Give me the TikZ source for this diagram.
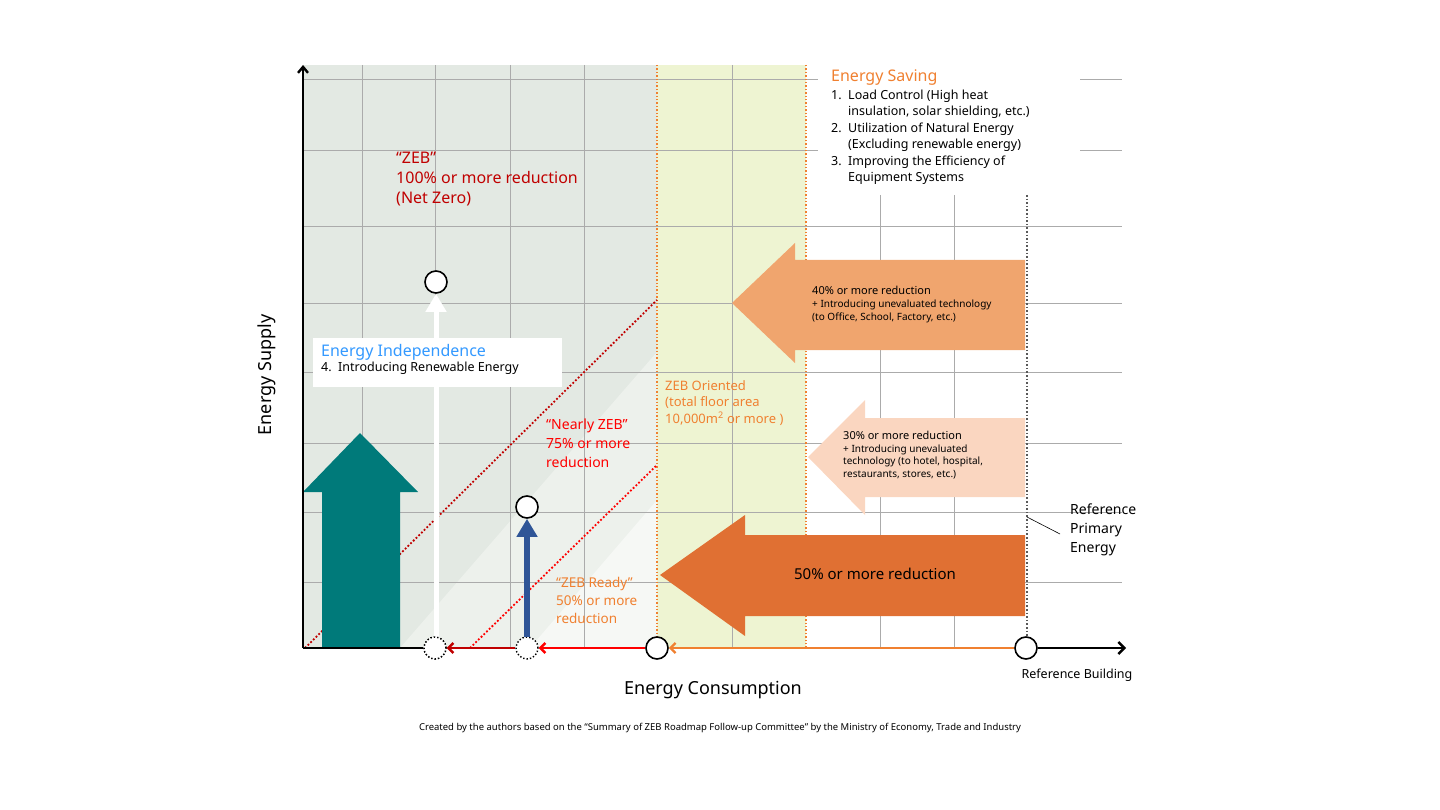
\documentclass[tikz,border=0pt]{standalone}
\usepackage{fontspec}
\setmainfont{Noto Sans}
\usetikzlibrary{arrows.meta}
\definecolor{bgg}{HTML}{E3E9E3}
\definecolor{bgl}{HTML}{EDF1EC}
\definecolor{bgw}{HTML}{F6F8F5}
\definecolor{yel}{HTML}{EEF4D2}
\definecolor{gridc}{HTML}{ABABAB}
\definecolor{dred}{HTML}{C00000}
\definecolor{bred}{HTML}{FF0000}
\definecolor{orn}{HTML}{F08030}
\definecolor{teal}{HTML}{007A7A}
\definecolor{blu}{HTML}{2F5597}
\definecolor{o40}{HTML}{F0A56E}
\definecolor{o30}{HTML}{FAD6C0}
\definecolor{o50}{HTML}{E07033}
\definecolor{sky}{HTML}{3399FF}
\begin{document}
\begin{tikzpicture}[x=1pt,y=-1pt,
  gl/.style={draw=gridc,line width=0.8pt},
  circ/.style={circle,draw=black,line width=1.6pt,fill=white,minimum size=22pt,inner sep=0pt},
  dcirc/.style={circle,draw=black,line width=1.4pt,dotted,fill=white,minimum size=22pt,inner sep=0pt},
  lbl/.style={align=left,anchor=north west,inner sep=0pt}]
\useasboundingbox (0,0) rectangle (1440,810);
\fill[bgg] (303,65) rectangle (657,648);
\fill[bgl] (400,648) -- (657,352) -- (657,648) -- cycle;
\fill[bgw] (530,648) -- (657,500) -- (657,648) -- cycle;
\fill[yel] (657,65) rectangle (806,648);
% grid
\foreach \y in {79,150,226,303,372,443,512,582} \draw[gl] (303,\y) -- (1122,\y);
\foreach \x in {362,435,510,584,732} \draw[gl] (\x,65) -- (\x,648);
\foreach \x in {880,954} \draw[gl] (\x,195) -- (\x,648);
\fill[white] (818,66) rectangle (1080,192);
\draw[orn,line width=1.4pt,dotted] (657,65) -- (657,648);
\draw[orn,line width=1.4pt,dotted] (806,65) -- (806,648);
\draw[black!65,line width=1.6pt,dotted] (1027,195) -- (1027,640);
% diagonals
\draw[dred,line width=1.8pt,dotted] (305,648) -- (657,300);
\draw[bred,line width=1.8pt,dotted] (470,648) -- (657,465);
% teal arrow
\fill[teal] (322,648) -- (322,492) -- (303,492) -- (360,433) -- (418,492) -- (400,492) -- (400,648) -- cycle;
% orange arrows
\fill[o40] (1025,260) -- (795,260) -- (795,243) -- (732,303) -- (795,363) -- (795,350) -- (1025,350) -- cycle;
\fill[o30] (1025,418) -- (865,418) -- (865,400) -- (808,457) -- (865,515) -- (865,497) -- (1025,497) -- cycle;
\fill[o50] (1025,535) -- (745,535) -- (745,515) -- (660,575) -- (745,636) -- (745,616) -- (1025,616) -- cycle;
% energy independence box
\fill[white] (313,338) rectangle (562,387);
% nodes
\node[circ] (zeb) at (436,282) {};
\node[circ] (nz) at (527,507) {};
\node[dcirc] (b1) at (435,648) {};
\node[dcirc] (b2) at (527,648) {};
\node[circ] (b3) at (657,648) {};
\node[circ] (b4) at (1026,648) {};
\coordinate (o) at (303,648);
\coordinate (ytop) at (303,65);
\coordinate (xend) at (1126,648);
\coordinate (wbot) at (436,648);
\coordinate (bbot) at (527,637);
% vertical arrows
\draw[white,line width=5pt,-{Triangle[width=20pt,length=18pt]}] (wbot) -- (zeb.south);
\draw[blu,line width=6pt,-{Triangle[width=20pt,length=18pt]}] (bbot) -- (nz.south);
\node[dcirc] at (435,648) {};
% axes
\draw[line width=2.4pt,-{Straight Barb[length=6pt,width=10pt]}] (o) -- (ytop);
\draw[line width=2.4pt] (o) -- (b1.west);
\draw[line width=2.4pt,-{Straight Barb[length=6pt,width=12pt]}] (b4.east) -- (xend);
\draw[dred,line width=2.4pt,-{Straight Barb[length=5pt,width=10pt]}] (b2.west) -- (b1.east);
\draw[bred,line width=2.4pt,-{Straight Barb[length=5pt,width=10pt]}] (b3.west) -- (b2.east);
\draw[orn,line width=2.4pt,-{Straight Barb[length=5pt,width=10pt]}] (b4.west) -- (b3.east);
% texts
\node[lbl,text=dred,font=\fontsize{16}{20}\selectfont] (tzeb) at (396,152) {“ZEB”\\100\% or more reduction\\(Net Zero)};
\node[lbl,font=\fontsize{12.5}{15}\selectfont] (tei) at (321,344) {\textcolor{sky}{\fontsize{16}{18}\selectfont Energy Independence}\\4.\ \ Introducing Renewable Energy};
\node[lbl,text=bred,font=\fontsize{14}{19}\selectfont] (tnz) at (546,419) {“Nearly ZEB”\\75\% or more\\reduction};
\node[lbl,text=orn,font=\fontsize{13.5}{18}\selectfont] (tzr) at (556,577) {“ZEB Ready”\\50\% or more\\reduction};
\node[lbl,text=orn,font=\fontsize{13}{16.5}\selectfont] (tzo) at (665,380) {ZEB Oriented\\(total floor area\\10,000m\textsuperscript{2} or more )};
\node[lbl,font=\fontsize{12.5}{16.5}\selectfont] (tes) at (831,70) {\textcolor{orn}{\fontsize{16}{18}\selectfont Energy Saving}\\[1pt]
\begin{tabular}{@{}l@{\ \ }l@{}}1.&Load Control (High heat\\&insulation, solar shielding, etc.)\\2.&Utilization of Natural Energy\\&(Excluding renewable energy)\\3.&Improving the Efficiency of\\&Equipment Systems\end{tabular}};
\node[lbl,font=\fontsize{10}{13}\selectfont] (t40) at (812,286) {{\fontsize{11}{13}\selectfont 40\% or more reduction}\\+ Introducing unevaluated technology\\(to Office, School, Factory, etc.)};
\node[lbl,font=\fontsize{10}{12.5}\selectfont] (t30) at (843,431) {{\fontsize{11}{13}\selectfont 30\% or more reduction}\\+ Introducing unevaluated\\technology (to hotel, hospital,\\restaurants, stores, etc.)};
\node[font=\fontsize{15}{18}\selectfont] (t50) at (875,574) {50\% or more reduction};
\node[lbl,font=\fontsize{14}{19}\selectfont] (tref) at (1070,504) {Reference\\Primary\\Energy};
\coordinate (rp) at (1027,517);
\draw[black,line width=0.6pt] (rp) -- (1060,534);
\node[font=\fontsize{12.5}{15}\selectfont] (trb) at (1077,675) {Reference Building};
\node[font=\fontsize{18}{22}\selectfont] (tec) at (713,690) {Energy Consumption};
\node[font=\fontsize{18}{22}\selectfont,rotate=90] (tesup) at (267,375) {Energy Supply};
\node[font=\fontsize{9.5}{12}\selectfont] (cap) at (720,728) {Created by the authors based on the “Summary of ZEB Roadmap Follow-up Committee” by the Ministry of Economy, Trade and Industry};
\end{tikzpicture}
\end{document}
